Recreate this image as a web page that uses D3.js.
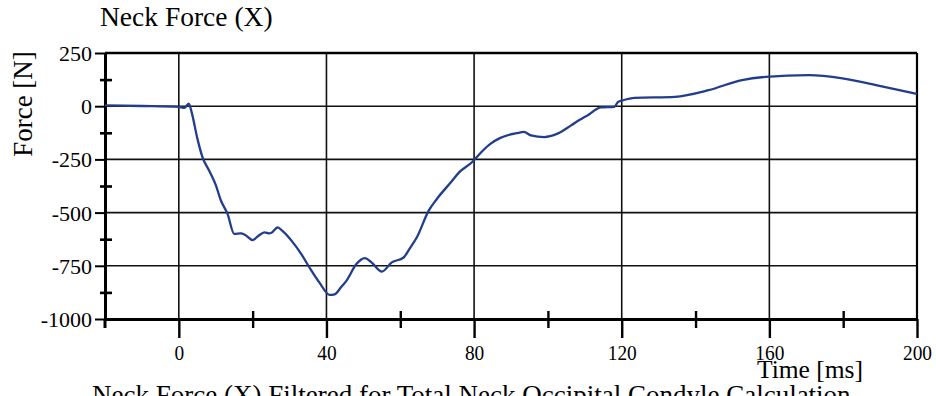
<!DOCTYPE html>
<html><head><meta charset="utf-8">
<script src="https://cdn.jsdelivr.net/npm/d3@7"></script>
<style>
html,body{margin:0;padding:0;background:#fff;}
svg{display:block;}
text{font-family:"Liberation Serif","Times New Roman",serif;fill:#000;}
</style></head>
<body><svg id="chart" width="936" height="396"></svg>
<script>
// ---- data ----
const timeMs = [-20,-10,0,1.5,2.7,3.5,5,6.4,8.2,10,11.4,13.2,15,16.8,18,20,21.5,23.2,24.5,25,26.8,28,30.9,33,35.4,38.1,40.9,42.2,44,45.4,48.1,50.4,52.2,55,57.7,60.9,62.5,64.5,67.7,69.9,73.6,76,79.5,82,84.5,87,89,91.5,93.5,95.4,99,102.6,106.3,108.5,110.8,114.4,118,119,120.4,123.5,134.4,143.5,152.6,159,170.7,179.8,188.9,200];
const forceN = [4,1,-3,-8,12,-30,-150,-239,-302,-370,-443,-506,-600,-598,-605,-629,-610,-593,-598,-596,-569,-585,-640,-690,-758,-829,-887,-884,-850,-821,-742,-714,-734,-777,-734,-711,-670,-616,-491,-436,-360,-310,-262,-215,-176,-150,-137,-127,-121,-137,-145,-129,-90,-65,-42,-6,-3,20,28,39,44,75,123,138,146,131,99,58];
const xMajorTicks = [0,40,80,120,160,200];
const xMinorTicks = [20,60,100,140,180];
const yMajorTicks = [-1000,-750,-500,-250,0,250];
const yMinorTicks = [-875,-625,-375,-125,125];
const titleText = "Neck Force (X)";
const yLabelText = "Force [N]";
const xLabelText = "Time [ms]";
const captionText = "Neck Force (X) Filtered for Total Neck Occipital Condyle Calculation";

const svg = d3.select("#chart");
const x = d3.scaleLinear().domain([-20,200]).range([105,917]);
const y = d3.scaleLinear().domain([-1000,250]).range([319,53]);
const fmt = d => String(d);

// gridlines
const g = svg.append("g");
g.selectAll("line.hg").data([-750,-500,-250,0]).join("line")
  .attr("x1",x(-20)).attr("x2",x(200)).attr("y1",d=>y(d)).attr("y2",d=>y(d))
  .attr("stroke","#111").attr("stroke-width",1.6);
g.selectAll("line.vg").data([0,40,80,120,160]).join("line")
  .attr("x1",d=>x(d)).attr("x2",d=>x(d)).attr("y1",y(250)).attr("y2",y(-1000))
  .attr("stroke","#111").attr("stroke-width",1.6);
// top border & right border
g.append("line").attr("x1",x(-20)).attr("x2",x(200)).attr("y1",y(250)).attr("y2",y(250))
  .attr("stroke","#000").attr("stroke-width",2.6);
g.append("line").attr("x1",x(200)).attr("x2",x(200)).attr("y1",y(250)).attr("y2",y(-1000))
  .attr("stroke","#000").attr("stroke-width",2.2);

// x axis
const xAxis = svg.append("g").attr("transform",`translate(0,${y(-1000)})`)
  .call(d3.axisBottom(x).tickValues(xMajorTicks).tickSizeInner(19).tickSizeOuter(0).tickPadding(6).tickFormat(fmt));
xAxis.select(".domain").attr("stroke","#000").attr("stroke-width",3);
xAxis.selectAll(".tick line").attr("stroke","#000").attr("stroke-width",2.4);
xAxis.selectAll(".tick text").attr("font-size",22).attr("dy","0.71em")
  .attr("transform","scale(0.88,1)").attr("x",0);
const xMinor = svg.append("g").attr("transform",`translate(0,${y(-1000)})`)
  .call(d3.axisBottom(x).tickValues(xMinorTicks).tickSizeOuter(0).tickFormat(""));
xMinor.select(".domain").remove();
xMinor.selectAll(".tick line").attr("y1",-8).attr("y2",9).attr("stroke","#000").attr("stroke-width",2.4);

// y axis
const yAxis = svg.append("g").attr("transform",`translate(${x(-20)},0)`)
  .call(d3.axisLeft(y).tickValues(yMajorTicks).tickSizeInner(10).tickSizeOuter(0).tickPadding(3).tickFormat(fmt));
yAxis.select(".domain").attr("stroke","#000").attr("stroke-width",3);
yAxis.selectAll(".tick line").attr("stroke","#000").attr("stroke-width",2);
yAxis.selectAll(".tick text").attr("font-size",22).attr("dy","0.34em");
const yMinor = svg.append("g").attr("transform",`translate(${x(-20)},0)`)
  .call(d3.axisLeft(y).tickValues(yMinorTicks).tickSizeOuter(0).tickFormat(""));
yMinor.select(".domain").remove();
yMinor.selectAll(".tick line").attr("x1",7).attr("x2",-5).attr("stroke","#000").attr("stroke-width",2.6);
// axis extension below
svg.append("line").attr("x1",x(-20)).attr("x2",x(-20)).attr("y1",y(-1000)).attr("y2",y(-1000)+9)
  .attr("stroke","#000").attr("stroke-width",3);

// data line
const line = d3.line().x((d,i)=>x(timeMs[i])).y(d=>y(d)).curve(d3.curveMonotoneX);
svg.append("path").datum(forceN).attr("d",line)
  .attr("fill","none").attr("stroke","#213d8c").attr("stroke-width",2.3).attr("stroke-linejoin","round");

// texts
svg.append("text").attr("x",100).attr("y",26).attr("font-size",27.5).text(titleText);
svg.append("text").attr("x",863).attr("y",378).attr("font-size",25.5).attr("text-anchor","end").text(xLabelText);
svg.append("text").attr("x",92).attr("y",404).attr("font-size",27).text(captionText);
svg.append("text").attr("transform","translate(32,104) rotate(-90)")
  .attr("font-size",27).attr("text-anchor","middle").text(yLabelText);
</script></body></html>
